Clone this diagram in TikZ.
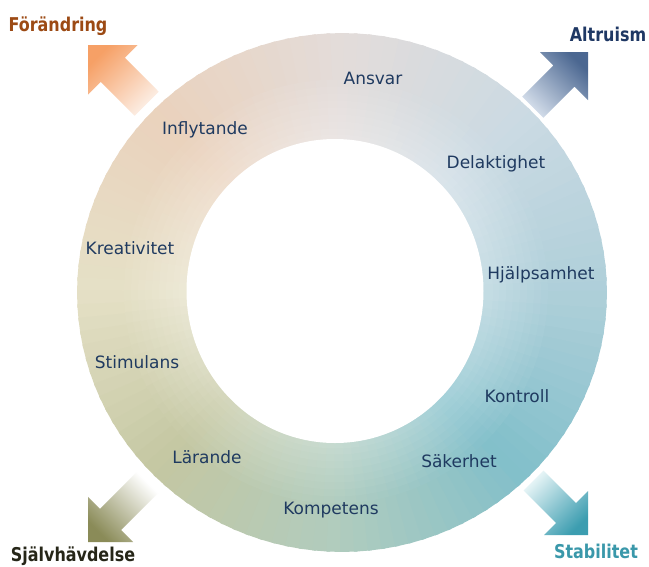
\documentclass[tikz,border=0pt]{standalone}
\usepackage{fontspec}
\setmainfont{DejaVu Sans}
\newfontfamily\cornerfont[FakeStretch=0.84]{DejaVu Sans Bold}
\definecolor{k0}{HTML}{AECFD9}
\definecolor{k1}{HTML}{CBDAE3}
\definecolor{k2}{HTML}{E3DCDA}
\definecolor{k3}{HTML}{EAD2BD}
\definecolor{k4}{HTML}{E5E0C6}
\definecolor{k5}{HTML}{C4C7A2}
\definecolor{k6}{HTML}{B0CCBE}
\definecolor{k7}{HTML}{82BFCA}
\definecolor{lblc}{RGB}{31,58,96}
\definecolor{cFor}{HTML}{9C4A14}
\definecolor{cAlt}{HTML}{1F3864}
\definecolor{cSja}{HTML}{262618}
\definecolor{cSta}{HTML}{3A98AA}
\definecolor{aTLtip}{HTML}{F6A066}
\definecolor{aTLtail}{HTML}{FCEFE6}
\definecolor{aTRtip}{HTML}{4B6791}
\definecolor{aTRtail}{HTML}{D3DDEA}
\definecolor{aBLtip}{HTML}{8A8B58}
\definecolor{aBLtail}{HTML}{FFFFFF}
\definecolor{aBRtip}{HTML}{3C9DB0}
\definecolor{aBRtail}{HTML}{E6F4F6}
\begin{document}
\begin{tikzpicture}[x=1pt,y=-1pt,
  lbl/.style={font=\fontsize{17}{20}\selectfont, text=lblc, anchor=base, inner sep=0pt},
  corner/.style={font=\cornerfont\fontsize{19}{22}\selectfont, anchor=base, inner sep=0pt}]
\useasboundingbox[fill=white] (0,0) rectangle (649,566);
% ring: outer band
\begin{scope}[shift={(342,292.5)}, y=1pt]
  \foreach \ca/\cb/\base in {k0/k1/0,k1/k2/45,k2/k3/90,k3/k4/135,k4/k5/180,k5/k6/225,k6/k7/270,k7/k0/315}{
    \foreach \j in {0,...,14}{
      \pgfmathsetmacro\angA{\base+3*\j-0.4}
      \pgfmathsetmacro\angB{\base+3*\j+3.4}
      \pgfmathtruncatemacro\pct{100-(100*\j+50)/15}
      \fill[\ca!\pct!\cb] (0,0) -- (\angA:265 and 259.5) -- (\angB:265 and 259.5) -- cycle;
    }
  }
\end{scope}
% ring: lighter bands towards the inner edge
\begin{scope}[shift={(336,291.5)}, y=1pt]
  \foreach \rad/\keep in {212/97,205/94,198/91,191/88,184/85,177/82,170/79,163/76,157/73}{
    \foreach \ca/\cb/\base in {k0/k1/0,k1/k2/45,k2/k3/90,k3/k4/135,k4/k5/180,k5/k6/225,k6/k7/270,k7/k0/315}{
      \foreach \j in {0,...,14}{
        \pgfmathsetmacro\angA{\base+3*\j-0.4}
        \pgfmathsetmacro\angB{\base+3*\j+3.4}
        \pgfmathtruncatemacro\pct{100-(100*\j+50)/15}
        \fill[\ca!\pct!\cb!\keep!white] (0,0) -- (\angA:\rad) -- (\angB:\rad) -- cycle;
      }
    }
  }
\end{scope}
\fill[white] (335,291) ellipse [x radius=148.5, y radius=152];
% arrows
\shade[top color=aTLtip, bottom color=aTLtail, shading angle=45]
  (88,45) -- (137.5,45) -- (124.8,57.7) -- (158.7,91.7) -- (134.7,115.7) -- (100.7,81.8) -- (88,94.5) -- cycle;
\shade[top color=aTRtip, bottom color=aTRtail, shading angle=-45]
  (588,52) -- (588,100) -- (574.6,86.6) -- (543.4,117.8) -- (522.2,96.6) -- (553.4,65.4) -- (540,52) -- cycle;
\shade[top color=aBLtip, bottom color=aBLtail, shading angle=135]
  (88,542) -- (133.2,542) -- (121.2,530) -- (158,493.2) -- (136.8,472) -- (100,508.8) -- (88,496.8) -- cycle;
\shade[top color=aBRtip, bottom color=aBRtail, shading angle=225]
  (588,535) -- (588,491.2) -- (576,503.2) -- (543.5,470.7) -- (523.7,490.5) -- (556.2,523) -- (544.2,535) -- cycle;
% ring labels
\node[lbl] (ansvar) at (373,84) {Ansvar};
\node[lbl] (inflytande) at (205,134) {Inflytande};
\node[lbl] (delaktighet) at (496,168) {Delaktighet};
\node[lbl] (kreativitet) at (130,254) {Kreativitet};
\node[lbl] (hjalpsamhet) at (541,279) {Hjälpsamhet};
\node[lbl] (stimulans) at (137,368) {Stimulans};
\node[lbl] (kontroll) at (517,402) {Kontroll};
\node[lbl] (larande) at (207,463) {Lärande};
\node[lbl] (sakerhet) at (459,467) {Säkerhet};
\node[lbl] (kompetens) at (331,514) {Kompetens};
% corner labels
\node[corner, text=cFor] (forandring) at (58,31) {Förändring};
\node[corner, text=cAlt] (altruism) at (608,41) {Altruism};
\node[corner, text=cSja] (sjalvhavdelse) at (73,561) {Självhävdelse};
\node[corner, text=cSta] (stabilitet) at (596,558) {Stabilitet};
\end{tikzpicture}
\end{document}
